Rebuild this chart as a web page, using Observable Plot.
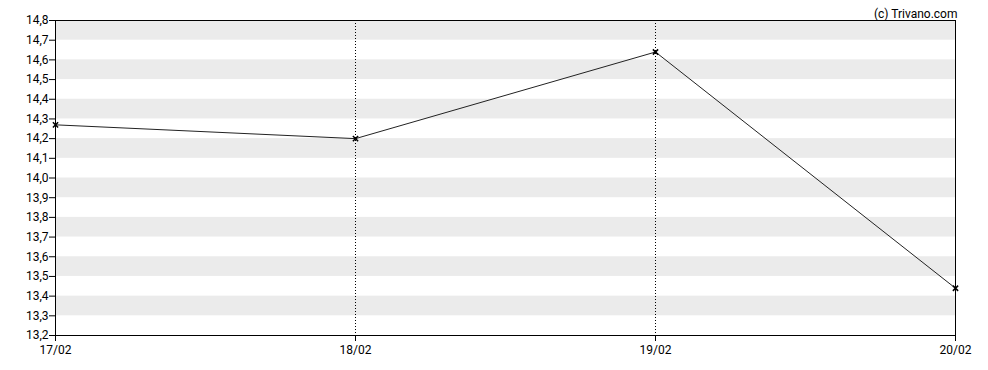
<!DOCTYPE html>
<html>
<head>
<meta charset="utf-8">
<script src="https://cdn.jsdelivr.net/npm/d3@7"></script>
<script src="https://cdn.jsdelivr.net/npm/@observablehq/plot@0.6"></script>
<style>
  html, body { margin: 0; padding: 0; background: #fff; }
  svg { display: block; }
</style>
</head>
<body>
<div id="chart"></div>
<script>
const dates = ["17/02", "18/02", "19/02", "20/02"];
const prices = [14.27, 14.20, 14.64, 13.44];
const yTicks = [13.2, 13.3, 13.4, 13.5, 13.6, 13.7, 13.8, 13.9, 14.0, 14.1, 14.2, 14.3, 14.4, 14.5, 14.6, 14.7, 14.8];
const bandStarts = [13.3, 13.5, 13.7, 13.9, 14.1, 14.3, 14.5, 14.7];
const gridDates = ["18/02", "19/02"];
const credit = "(c) Trivano.com";

const data = dates.map((d, i) => ({date: d, price: prices[i]}));
const bands = bandStarts.map(b => ({y1: b, y2: +(b + 0.1).toFixed(1)}));

const fmt = d => d.toFixed(1).replace(".", ",");

const chart = Plot.plot({
  width: 988,
  height: 370,
  marginLeft: 55,
  marginRight: 33,
  marginTop: 20,
  marginBottom: 35,
  style: {fontFamily: "Roboto", fontSize: "12px", color: "#000", background: "#fff"},
  x: {type: "point", domain: dates, padding: 0, label: null},
  y: {domain: [13.2, 14.8], label: null},
  marks: [
    Plot.rectY(bands, {y1: "y1", y2: "y2", fill: "#ebebeb"}),
    Plot.ruleX(gridDates, {stroke: "#000", strokeDasharray: "1,2", strokeWidth: 1}),
    Plot.frame({stroke: "#000", strokeWidth: 1}),
    Plot.axisY({ticks: yTicks, tickFormat: fmt, tickSize: 6, tickPadding: 1, stroke: "#000", fontSize: 12}),
    Plot.axisX({tickSize: 6, tickPadding: 4, stroke: "#000", fontSize: 12}),
    Plot.line(data, {x: "date", y: "price", stroke: "#222", strokeWidth: 1}),
    Plot.dot(data, {x: "date", y: "price", symbol: "times", r: 2.5, stroke: "#000", strokeWidth: 1.5}),
    Plot.text([credit], {frameAnchor: "top-right", text: d => d, dy: -11, dx: 2, fontSize: 12, fill: "#000"})
  ]
});
document.getElementById("chart").appendChild(chart);
</script>
</body>
</html>
